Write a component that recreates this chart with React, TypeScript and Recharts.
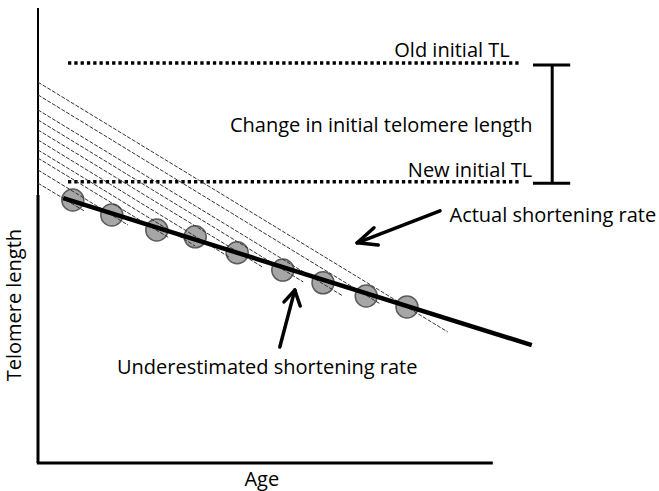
import React from "react";
import {
  ComposedChart,
  Line,
  XAxis,
  YAxis,
  ReferenceLine,
  ReferenceDot,
} from "recharts";

// conceptual units: age 0..100, telomere length 0..100
const circleAge = [5.8, 12.3, 19.8, 26.2, 33.2, 40.8, 47.5, 54.7, 61.5];
const circleTL = [57.8, 54.5, 51.2, 49.7, 46.2, 42.4, 39.6, 36.7, 34.3];

const trendAge = [4.2, 82.3];
const trendTL = [58.2, 25.9];

// individual trajectories (actual rate), start at age 0
const lineStartTL = [61.5, 64.4, 67.0, 68.8, 71.0, 73.2, 75.4, 77.6, 80.9, 83.7];
const lineEndAge = [7.7, 15.0, 21.7, 26.2, 31.8, 37.5, 44.2, 50.7, 57.0, 68.3];
const lineEndTL = [55.4, 52.3, 49.6, 47.7, 45.3, 43.0, 39.8, 36.8, 35.0, 28.8];

const oldTL = 87.9;
const newTL = 61.8;
const dottedFrom = 5;
const dottedTo = 80.3;

const bracketAge = 85.7;
const bracketCap = [82.5, 88.7];
const bracketTL = [87.5, 61.5];

const xAxisEnd = 75.8;
const yAxisBreak = 58.9;

// arrows: tail, tip, wing1, wing2  as [age, tl]
const actualArrow = [
  [67.0, 55.4],
  [53.2, 48.4],
  [56.0, 51.7],
  [56.7, 47.9],
];
const underArrow = [
  [40.3, 25.5],
  [42.8, 38.0],
  [41.0, 35.4],
  [43.7, 34.5],
];

const labels = [
  { text: "Old initial TL", age: 69.0, tl: 90.8, angle: 0 },
  { text: "Change in initial telomere length", age: 57.2, tl: 74.5, angle: 0 },
  { text: "New initial TL", age: 72.0, tl: 64.4, angle: 0 },
  { text: "Actual shortening rate", age: 85.8, tl: 54.7, angle: 0 },
  { text: "Underestimated shortening rate", age: 38.2, tl: 21.1, angle: 0 },
  { text: "Age", age: 37.3, tl: -3.3, angle: 0 },
  { text: "Telomere length", age: -4.0, tl: 34.7, angle: -90 },
];

const circles = circleAge.map((a, i) => ({ age: a, tl: circleTL[i] }));
const trend = trendAge.map((a, i) => ({ age: a, tl: trendTL[i] }));
const lines = lineStartTL.map((s, i) => [
  { age: 0, tl: s },
  { age: lineEndAge[i], tl: lineEndTL[i] },
]);

const FONT = "'Open Sans', sans-serif";

const arrowSegs = (arr: number[][]) => [
  [arr[0], arr[1]],
  [arr[2], arr[1]],
  [arr[3], arr[1]],
];

const App = () => {
  return (
    <div style={{ position: "absolute", left: 0, top: 0, background: "#fff" }}>
      <ComposedChart
        width={659}
        height={491}
        margin={{ top: 8, right: 21, bottom: 28, left: 38 }}
      >
        <XAxis type="number" dataKey="age" domain={[0, 100]} hide />
        <YAxis type="number" dataKey="tl" domain={[0, 100]} hide />

        {/* axes */}
        <ReferenceLine
          segment={[{ x: 0, y: 0 }, { x: 0, y: yAxisBreak }]}
          stroke="#000"
          strokeWidth={3}
          ifOverflow="visible"
        />
        <ReferenceLine
          segment={[{ x: 0, y: yAxisBreak }, { x: 0, y: 100 }]}
          stroke="#000"
          strokeWidth={2}
          ifOverflow="visible"
        />
        <ReferenceLine
          segment={[{ x: -0.2, y: 0 }, { x: xAxisEnd, y: 0 }]}
          stroke="#000"
          strokeWidth={3}
          ifOverflow="visible"
        />

        {/* initial TL levels */}
        <ReferenceLine
          segment={[{ x: dottedFrom, y: oldTL }, { x: dottedTo, y: oldTL }]}
          stroke="#000"
          strokeWidth={3.5}
          strokeDasharray="3.3 3"
        />
        <ReferenceLine
          segment={[{ x: dottedFrom, y: newTL }, { x: dottedTo, y: newTL }]}
          stroke="#000"
          strokeWidth={3.5}
          strokeDasharray="3.3 3"
        />

        {/* bracket */}
        <ReferenceLine
          segment={[{ x: bracketAge, y: bracketTL[0] }, { x: bracketAge, y: bracketTL[1] }]}
          stroke="#000"
          strokeWidth={3}
        />
        <ReferenceLine
          segment={[{ x: bracketCap[0], y: bracketTL[0] }, { x: bracketCap[1], y: bracketTL[0] }]}
          stroke="#000"
          strokeWidth={3}
        />
        <ReferenceLine
          segment={[{ x: bracketCap[0], y: bracketTL[1] }, { x: bracketCap[1], y: bracketTL[1] }]}
          stroke="#000"
          strokeWidth={3}
        />

        {/* measured points, drawn as a stroke-less line so they sit under the other lines */}
        <Line
          data={circles}
          dataKey="tl"
          type="linear"
          stroke="none"
          activeDot={false}
          isAnimationActive={false}
          {...({ zIndex: 100 } as any)}
          dot={(p: any) => (
            <circle
              key={p.index}
              cx={p.cx}
              cy={p.cy}
              r={11}
              fill="#a6a6a6"
              stroke="#5c5c5c"
              strokeWidth={1.5}
            />
          )}
        />

        {lines.map((d, i) => (
          <Line
            key={i}
            data={d}
            dataKey="tl"
            type="linear"
            stroke="#333"
            strokeWidth={1}
            strokeDasharray="4 1.5"
            dot={false}
            activeDot={false}
            isAnimationActive={false}
            {...({ zIndex: 1500 } as any)}
          />
        ))}

        <Line
          data={trend}
          dataKey="tl"
          type="linear"
          stroke="#000"
          strokeWidth={4.5}
          dot={false}
          activeDot={false}
          isAnimationActive={false}
          {...({ zIndex: 1600 } as any)}
        />

        {[...arrowSegs(actualArrow), ...arrowSegs(underArrow)].map((s, i) => (
          <ReferenceLine
            key={"a" + i}
            segment={[{ x: s[0][0], y: s[0][1] }, { x: s[1][0], y: s[1][1] }]}
            stroke="#000"
            strokeWidth={3.5}
            strokeLinecap="round"
            ifOverflow="visible"
          />
        ))}

        {labels.map((l, i) => (
          <ReferenceDot
            key={"t" + i}
            x={l.age}
            y={l.tl}
            r={0}
            fill="none"
            stroke="none"
            ifOverflow="visible"
            label={(p: any) => {
              const vb = p.viewBox || {};
              const cx = (vb.x ?? 0) + (vb.width ?? 0) / 2;
              const cy = (vb.y ?? 0) + (vb.height ?? 0) / 2;
              return (
                <text
                  x={cx}
                  y={cy}
                  textAnchor="middle"
                  dominantBaseline="central"
                  fontFamily={FONT}
                  fontSize={20}
                  fill="#000"
                  transform={l.angle ? `rotate(${l.angle} ${cx} ${cy})` : undefined}
                >
                  {l.text}
                </text>
              );
            }}
          />
        ))}
      </ComposedChart>
    </div>
  );
};

export default App;
